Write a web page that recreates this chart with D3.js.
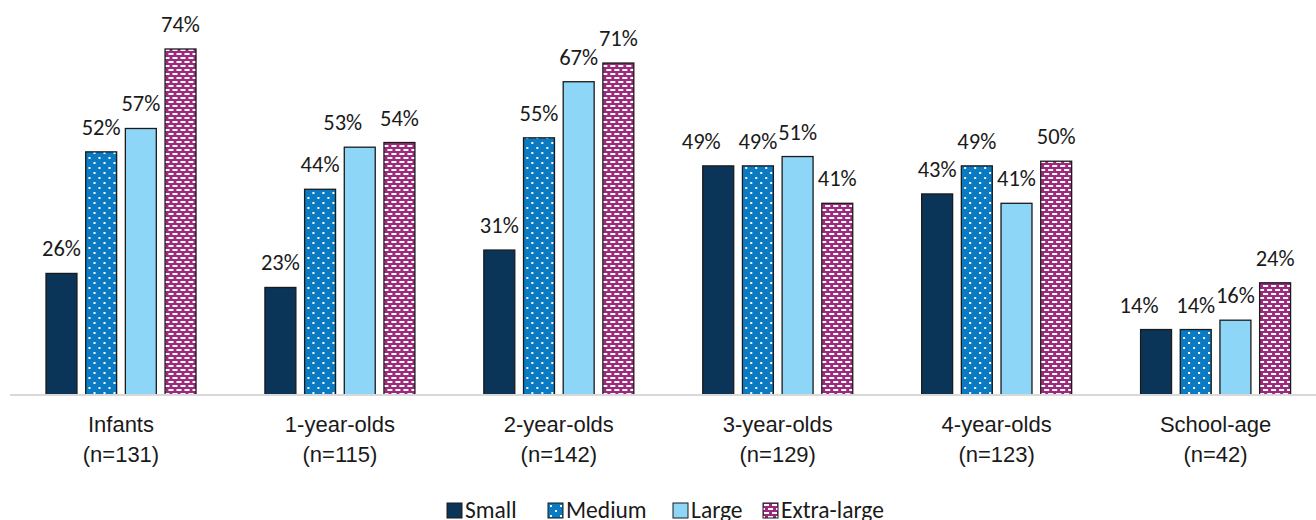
<!DOCTYPE html>
<html>
<head>
<meta charset="utf-8">
<script src="https://cdn.jsdelivr.net/npm/d3@7"></script>
<style>
  html, body { margin: 0; padding: 0; background: #fff; }
  svg { display: block; font-family: Carlito, Lato, sans-serif; }
</style>
</head>
<body>
<svg id="chart" width="1316" height="520"></svg>
<script>
// Age groups with sample sizes
const categories = ["Infants", "1-year-olds", "2-year-olds", "3-year-olds", "4-year-olds", "School-age"];
const sampleSizes = ["(n=131)", "(n=115)", "(n=142)", "(n=129)", "(n=123)", "(n=42)"];

// Series (program size), percent values per age group
const seriesNames = ["Small", "Medium", "Large", "Extra-large"];
const small      = [26, 23, 31, 49, 43, 14];
const medium     = [52, 44, 55, 49, 49, 14];
const large      = [57, 53, 67, 51, 41, 16];
const extraLarge = [74, 54, 71, 41, 50, 24];
const seriesValues = [small, medium, large, extraLarge];

const svg = d3.select("#chart");
const defs = svg.append("defs");

// Medium: blue with white offset dots
const pMed = defs.append("pattern").attr("id", "pat-medium")
  .attr("patternUnits", "userSpaceOnUse").attr("width", 10).attr("height", 10);
pMed.append("rect").attr("width", 10).attr("height", 10).attr("fill", "#0A7BC2");
pMed.append("rect").attr("x", 2).attr("y", 2).attr("width", 2).attr("height", 2).attr("fill", "#fff");
pMed.append("rect").attr("x", 7).attr("y", 7).attr("width", 2).attr("height", 2).attr("fill", "#fff");

// Extra-large: purple with white brick dashes
const pXL = defs.append("pattern").attr("id", "pat-xl")
  .attr("patternUnits", "userSpaceOnUse").attr("width", 8).attr("height", 8);
pXL.append("rect").attr("width", 8).attr("height", 8).attr("fill", "#9B2A7D");
pXL.append("rect").attr("x", 1).attr("y", 1).attr("width", 5).attr("height", 2).attr("fill", "#fff");
pXL.append("rect").attr("x", 5).attr("y", 5).attr("width", 5).attr("height", 2).attr("fill", "#fff");
pXL.append("rect").attr("x", -3).attr("y", 5).attr("width", 5).attr("height", 2).attr("fill", "#fff");

const fills = ["#0B3558", "url(#pat-medium)", "#8ED6F7", "url(#pat-xl)"];

const baseline = 395;
const y = d3.scaleLinear().domain([0, 74]).range([baseline, 49]);

const x0 = d3.scaleBand().domain(categories).range([11.5, 1325]);
const x1 = d3.scaleBand().domain(seriesNames)
  .range([34.5, 184.5]).paddingInner(0.22).paddingOuter(0);

const rows = categories.map((c, i) => ({
  cat: c,
  bars: seriesNames.map((s, j) => ({ series: s, idx: j, value: seriesValues[j][i] }))
}));

const groups = svg.append("g").selectAll("g").data(rows).join("g")
  .attr("transform", d => `translate(${x0(d.cat)},0)`);

groups.selectAll("rect").data(d => d.bars).join("rect")
  .attr("x", d => x1(d.series))
  .attr("y", d => y(d.value))
  .attr("width", x1.bandwidth())
  .attr("height", d => baseline - y(d.value))
  .attr("fill", d => fills[d.idx])
  .attr("stroke", "#1a1a1a")
  .attr("stroke-width", 1.3);

// Value labels; a label sitting level with its right neighbour's label
// is nudged left so the two do not run together.
groups.selectAll("text.val").data(d => d.bars.map((b, j, arr) => {
    const next = arr[j + 1];
    const clash = next && Math.abs(y(next.value) - y(b.value)) < 5;
    return Object.assign({ shift: clash ? -x1.bandwidth() * 0.55 : 0 }, b);
  })).join("text")
  .attr("class", "val")
  .attr("x", d => x1(d.series) + x1.bandwidth() / 2 + d.shift)
  .attr("y", d => y(d.value) - 17)
  .attr("text-anchor", "middle")
  .attr("font-size", 22.5)
  .attr("fill", "#1a1a1a")
  .text(d => d.value + "%");

// Category axis
const xAxis = d3.axisBottom(x0).tickSize(0).tickFormat(() => "");
const axisG = svg.append("g").attr("transform", `translate(0,${baseline})`).call(xAxis);
axisG.select(".domain").remove();
axisG.append("line").attr("x1", 10).attr("x2", 1316).attr("y1", 0).attr("y2", 0)
  .attr("stroke", "#d9d9d9").attr("stroke-width", 2);

axisG.selectAll(".tick").each(function(d, i) {
  const t = d3.select(this);
  t.append("text").attr("y", 37).attr("text-anchor", "middle")
    .attr("font-size", 22).attr("fill", "#1a1a1a").text(categories[i]);
  t.append("text").attr("y", 67).attr("text-anchor", "middle")
    .attr("font-size", 22).attr("fill", "#1a1a1a").text(sampleSizes[i]);
});

// Legend
const legendX = [447, 548, 673, 763];
const legend = svg.append("g").selectAll("g").data(seriesNames).join("g")
  .attr("transform", (d, i) => `translate(${legendX[i]},503)`);
legend.append("rect").attr("width", 15).attr("height", 15)
  .attr("fill", (d, i) => fills[i]).attr("stroke", "#1a1a1a").attr("stroke-width", 1);
legend.append("text").attr("x", 18).attr("y", 15)
  .attr("font-size", 23.5).attr("fill", "#1a1a1a").text(d => d);
</script>
</body>
</html>
